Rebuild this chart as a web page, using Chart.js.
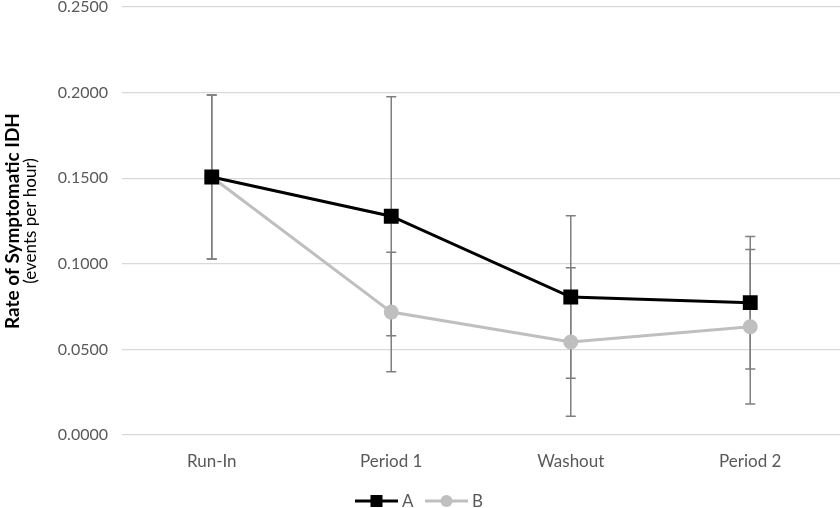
<!DOCTYPE html>
<html>
<head>
<meta charset="utf-8">
<script src="https://cdn.jsdelivr.net/npm/chart.js@4"></script>
<style>
  html, body { margin: 0; padding: 0; background: #fff; }
  #wrap { width: 840px; height: 508px; }
</style>
</head>
<body>
<div id="wrap"><canvas id="rateChart"></canvas></div>
<script>
const categories = ['Run-In', 'Period 1', 'Washout', 'Period 2'];
const seriesA = [0.1507, 0.1278, 0.0806, 0.0773];
const seriesB = [0.1507, 0.0718, 0.0543, 0.0632];
const errA = [0.0479, 0.0698, 0.0474, 0.0387];
const errB = [0.0479, 0.0349, 0.0434, 0.0451];
const yTicks = [0, 0.05, 0.10, 0.15, 0.20, 0.25];

const FONT = 'Lato, "Open Sans", sans-serif';
const TEXT = '#595959';

// error bars, drawn under the markers
const errorBars = {
    id: 'errorBars',
    beforeDatasetsDraw(chart) {
        const { ctx, scales: { x, y } } = chart;
        ctx.save();
        ctx.strokeStyle = '#7f7f7f';
        ctx.lineWidth = 1.5;
        [[seriesA, errA], [seriesB, errB]].forEach(([vals, errs]) => {
            vals.forEach((v, i) => {
                const px = x.getPixelForValue(i);
                const top = y.getPixelForValue(v + errs[i]);
                const bot = y.getPixelForValue(v - errs[i]);
                ctx.beginPath();
                ctx.moveTo(px, top); ctx.lineTo(px, bot);
                ctx.moveTo(px - 5, top); ctx.lineTo(px + 5, top);
                ctx.moveTo(px - 5, bot); ctx.lineTo(px + 5, bot);
                ctx.stroke();
            });
        });
        ctx.restore();
    }
};

// y title (two lines, different weights) and legend with line + marker
const extras = {
    id: 'extras',
    afterDraw(chart) {
        const { ctx, chartArea } = chart;
        const cy = (chartArea.top + chartArea.bottom) / 2;
        ctx.save();
        ctx.translate(0, cy);
        ctx.rotate(-Math.PI / 2);
        ctx.textAlign = 'center';
        ctx.textBaseline = 'middle';
        ctx.fillStyle = '#000';
        ctx.font = 'bold 19px ' + FONT;
        ctx.fillText('Rate of Symptomatic IDH', 0, 13);
        ctx.font = '17px ' + FONT;
        ctx.fillText('(events per hour)', 0, 31);
        ctx.restore();

        const ly = 501;
        const items = [
            { x: 355, label: 'A', color: '#000', square: true },
            { x: 425, label: 'B', color: '#bfbfbf', square: false }
        ];
        ctx.save();
        items.forEach(it => {
            ctx.strokeStyle = it.color;
            ctx.fillStyle = it.color;
            ctx.lineWidth = 3;
            ctx.beginPath();
            ctx.moveTo(it.x, ly); ctx.lineTo(it.x + 43, ly);
            ctx.stroke();
            if (it.square) {
                ctx.fillRect(it.x + 15.5, ly - 6, 12, 12);
            } else {
                ctx.beginPath();
                ctx.arc(it.x + 21.5, ly, 6, 0, Math.PI * 2);
                ctx.fill();
            }
            ctx.fillStyle = TEXT;
            ctx.font = '17px ' + FONT;
            ctx.textBaseline = 'middle';
            ctx.textAlign = 'left';
            ctx.fillText(it.label, it.x + 47, ly + 1);
        });
        ctx.restore();
    }
};

new Chart(document.getElementById('rateChart'), {
    type: 'line',
    data: {
        labels: categories,
        datasets: [
            {
                label: 'A',
                data: seriesA,
                borderColor: '#000',
                backgroundColor: '#000',
                borderWidth: 3,
                pointStyle: 'rect',
                pointRadius: 10.5,
                pointHoverRadius: 10.5,
                pointBorderWidth: 0,
                tension: 0
            },
            {
                label: 'B',
                data: seriesB,
                borderColor: '#bfbfbf',
                backgroundColor: '#bfbfbf',
                borderWidth: 3,
                pointStyle: 'circle',
                pointRadius: 7.5,
                pointHoverRadius: 7.5,
                pointBorderWidth: 0,
                tension: 0
            }
        ]
    },
    options: {
        responsive: true,
        maintainAspectRatio: false,
        animation: false,
        events: [],
        layout: { autoPadding: false, padding: { top: 0, right: 0, bottom: 40, left: 0 } },
        plugins: {
            legend: { display: false },
            tooltip: { enabled: false }
        },
        scales: {
            x: {
                offset: true,
                grid: { display: false, drawTicks: false },
                border: { display: false },
                ticks: { color: TEXT, font: { family: FONT, size: 17 }, padding: 16 },
                afterFit(scale) { scale.height = 33; }
            },
            y: {
                min: 0,
                max: 0.25,
                afterBuildTicks(scale) { scale.ticks = yTicks.map(v => ({ value: v })); },
                grid: { color: '#d9d9d9', lineWidth: 1.3, drawTicks: false },
                border: { display: false },
                ticks: {
                    color: TEXT,
                    font: { family: FONT, size: 16 },
                    padding: 14,
                    callback: v => Number(v).toFixed(4)
                },
                afterFit(scale) {
                    scale.width = 122;
                    scale.paddingTop = 7;
                    scale.paddingBottom = 7;
                }
            }
        }
    },
    plugins: [errorBars, extras]
});
</script>
</body>
</html>
